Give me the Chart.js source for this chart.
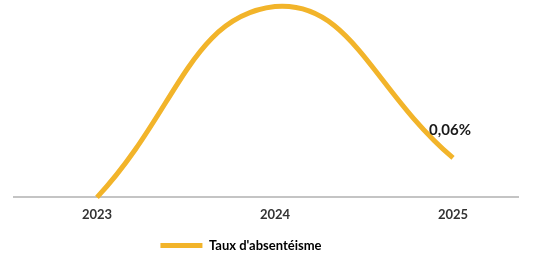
<!DOCTYPE html>
<html>
<head>
<meta charset="utf-8">
<script src="https://cdn.jsdelivr.net/npm/chart.js@4.4.0/dist/chart.umd.min.js"></script>
<style>
  html, body { margin: 0; padding: 0; background: #fff; }
  #wrap { width: 544px; height: 258px; position: relative; }
</style>
</head>
<body>
<div id="wrap"><canvas id="chart"></canvas></div>
<script>
// data
var years = [2023, 2024, 2025];
var absenteeism = [0.00, 0.29, 0.06];
var seriesName = "Taux d'absentéisme";
var labelledIndex = 2;   // only the last point carries a value label

var gold = '#F2B42A';

var points = [];
for (var i = 0; i < years.length; i++) {
  points.push({ x: years[i], y: absenteeism[i] });
}

// writes the 0,06% label above the last point
var valueLabel = {
  id: 'valueLabel',
  afterDatasetsDraw: function(chart) {
    var meta = chart.getDatasetMeta(0);
    var pt = meta.data[labelledIndex];
    var ctx = chart.ctx;
    ctx.save();
    ctx.font = 'bold 15px Lato, "Open Sans", sans-serif';
    ctx.fillStyle = '#1a1a1a';
    ctx.textAlign = 'center';
    ctx.textBaseline = 'middle';
    var txt = absenteeism[labelledIndex].toFixed(2).replace('.', ',') + '%';
    ctx.fillText(txt, pt.x - 3, pt.y - 28);
    ctx.restore();
  }
};

// legend sits a bit left of centre and lower in the original
var legendShift = {
  id: 'legendShift',
  afterLayout: function(chart) {
    chart.legend.left -= 25;
    chart.legend.right -= 25;
    chart.legend.top += 4;
    chart.legend.bottom += 4;
  }
};

new Chart(document.getElementById('chart'), {
  type: 'line',
  data: {
    datasets: [{
      label: seriesName,
      data: points,
      borderColor: gold,
      backgroundColor: gold,
      borderWidth: 5,
      pointRadius: 0,
      tension: 0.45,
      fill: false
    }]
  },
  options: {
    responsive: true,
    maintainAspectRatio: false,
    animation: false,
    layout: { padding: { left: 14, right: 26, top: 0, bottom: 0 } },
    clip: false,
    scales: {
      x: {
        type: 'linear',
        min: 2022.534,
        max: 2025.365,
        afterBuildTicks: function(scale) {
          scale.ticks = years.map(function(v) { return { value: v }; });
        },
        ticks: {
          callback: function(v) { return String(v); },
          color: '#333',
          font: { family: 'Lato, "Open Sans", sans-serif', size: 13, weight: 'bold' },
          padding: 10,
          maxRotation: 0
        },
        grid: { display: false, drawTicks: false },
        border: { display: true, color: '#C4C4C4', width: 2 }
      },
      y: {
        display: false,
        min: 0,
        max: 0.3
      }
    },
    plugins: {
      legend: {
        position: 'bottom',
        labels: {
          boxWidth: 42,
          boxHeight: 5,
          padding: 2,
          color: '#1a1a1a',
          font: { family: 'Lato, "Open Sans", sans-serif', size: 13, weight: 'bold' },
          generateLabels: function(chart) {
            return [{
              text: seriesName,
              fillStyle: gold,
              strokeStyle: gold,
              lineWidth: 0,
              datasetIndex: 0,
              hidden: false
            }];
          }
        }
      },
      tooltip: { enabled: false }
    }
  },
  plugins: [valueLabel, legendShift]
});
</script>
</body>
</html>
